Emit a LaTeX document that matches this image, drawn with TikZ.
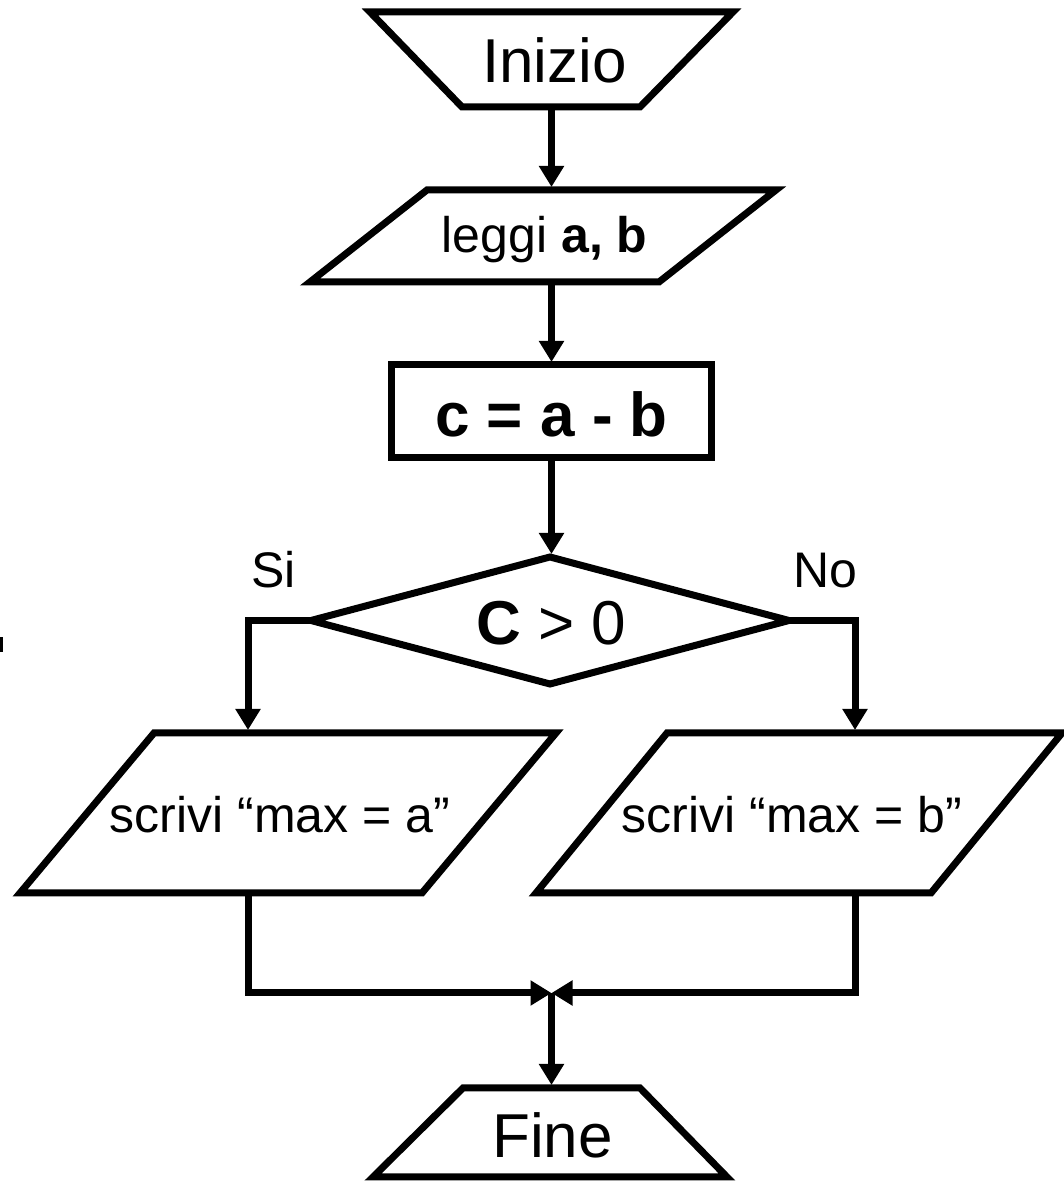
\documentclass[tikz,border=0pt]{standalone}
\usepackage{fontspec}
\setmainfont{Liberation Sans}
\usetikzlibrary{arrows.meta}
\begin{document}
\begin{tikzpicture}[x=1pt,y=1pt,line width=7pt,line join=miter,
  frame/.style={rectangle,inner sep=0pt,outer sep=0pt},
  flow/.style={-{Triangle[length=21pt,width=24pt]},shorten >=3pt},
  line/.style={line cap=rect},
  big/.style={font=\fontsize{62}{70}\selectfont,inner sep=0pt,anchor=base},
  mid/.style={font=\fontsize{50}{60}\selectfont,inner sep=0pt,anchor=base}]
\useasboundingbox (0,0) rectangle (1064,1183);

% frames (invisible bounding boxes of the shapes)
\node[frame,minimum width=363pt,minimum height=95pt] (inizio) at (551.5,1123.5) {};
\node[frame,minimum width=466pt,minimum height=92pt] (leggi) at (543,947) {};
\node[frame,draw,minimum width=320pt,minimum height=93pt] (calc) at (551.5,771.5) {};
\node[frame,minimum width=478pt,minimum height=127pt] (dec) at (550,562.5) {};
\node[frame,minimum width=536pt,minimum height=160pt] (sa) at (288,370) {};
\node[frame,minimum width=526pt,minimum height=160pt] (sb) at (799,370) {};
\node[frame,minimum width=354pt,minimum height=89pt] (fine) at (550,50.5) {};

% shapes
\draw (inizio.north west) -- (inizio.north east) -- ([xshift=-93pt]inizio.south east)
      -- ([xshift=92pt]inizio.south west) -- cycle;
\draw ([xshift=117pt]leggi.north west) -- (leggi.north east)
      -- ([xshift=-117pt]leggi.south east) -- (leggi.south west) -- cycle;
\draw (dec.north) -- (dec.east) -- (dec.south) -- (dec.west) -- cycle;
\draw ([xshift=134pt]sa.north west) -- (sa.north east)
      -- ([xshift=-134pt]sa.south east) -- (sa.south west) -- cycle;
\draw ([xshift=131pt]sb.north west) -- (sb.north east)
      -- ([xshift=-131pt]sb.south east) -- (sb.south west) -- cycle;
\draw (fine.south west) -- (fine.south east) -- ([xshift=-87pt]fine.north east)
      -- ([xshift=90pt]fine.north west) -- cycle;

% texts
\node[big] (t-inizio) at (554.5,1100) {Inizio};
\node[mid] (t-leggi) at (544.5,930) {leggi \textbf{a, b}};
\node[big] (t-calc) at (551.5,746) {\textbf{c = a - b}};
\node[big] (t-dec) at (551.5,538) {\textbf{C} > 0};
\node[mid] (t-si) at (273.5,595) {Si};
\node[mid] (t-no) at (825,595) {No};
\node[mid] (t-sa) at (280,350) {scrivi “max = a”};
\node[mid] (t-sb) at (792,350) {scrivi “max = b”};
\node[big] (t-fine) at (552.5,25) {Fine};

% connection points
\coordinate (sa-in) at (248,450);
\coordinate (sb-in) at (855,450);
\coordinate (sa-out) at (248,290);
\coordinate (sb-out) at (855,290);
\coordinate (join) at (551.5,190);

% connectors
\draw[flow] (inizio.south) -- (inizio.south |- leggi.north);
\draw[flow] (inizio.south |- leggi.south) -- (calc.north);
\draw[flow] (calc.south) -- (calc.south |- dec.north);
\draw[flow] (dec.west) -| (sa-in);
\draw[flow] (dec.east) -| (sb-in);
\draw[flow,shorten >=0pt] (sa-out) |- (join);
\draw[flow,shorten >=0pt] (sb-out) |- (join);
\draw[flow] (join) -- (join |- fine.north);

% small mark at the left edge
\fill (0,546) rectangle (3,531);
\end{tikzpicture}
\end{document}
